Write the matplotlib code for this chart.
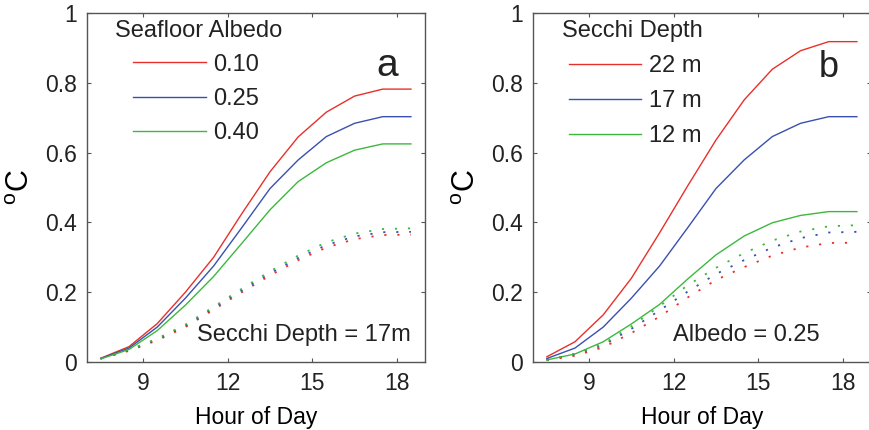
import matplotlib
matplotlib.use("Agg")
import matplotlib.pyplot as plt

plt.rcParams['font.family'] = ['Liberation Sans', 'DejaVu Sans']
plt.rcParams['mathtext.fontset'] = 'custom'
plt.rcParams['mathtext.rm'] = 'Liberation Sans'
plt.rcParams['text.color'] = '#222222'

hours = [7.5, 8.5, 9.5, 10.5, 11.5, 12.5, 13.5, 14.5, 15.5, 16.5, 17.5, 18.5]

# (a) Secchi depth 17 m, three seafloor albedos
albedo_labels = ['0.10', '0.25', '0.40']
a_solid_red = [0.011, 0.044, 0.110, 0.200, 0.300, 0.425, 0.545, 0.645, 0.716, 0.762, 0.782, 0.782]
a_solid_blue = [0.010, 0.040, 0.100, 0.183, 0.275, 0.385, 0.497, 0.579, 0.646, 0.684, 0.703, 0.703]
a_solid_green = [0.009, 0.036, 0.090, 0.163, 0.245, 0.340, 0.436, 0.517, 0.571, 0.607, 0.625, 0.625]
a_dot_red = [0.010, 0.032, 0.062, 0.100, 0.150, 0.200, 0.248, 0.292, 0.328, 0.352, 0.364, 0.365]
a_dot_blue = [0.010, 0.034, 0.065, 0.104, 0.155, 0.205, 0.254, 0.298, 0.335, 0.360, 0.372, 0.373]
a_dot_green = [0.010, 0.035, 0.067, 0.107, 0.158, 0.210, 0.260, 0.305, 0.343, 0.368, 0.381, 0.383]

# (b) albedo 0.25, three Secchi depths
secchi_labels = ['22 m', '17 m', '12 m']
b_solid_red = [0.015, 0.058, 0.135, 0.240, 0.370, 0.505, 0.636, 0.751, 0.839, 0.892, 0.918, 0.918]
b_solid_blue = [0.010, 0.040, 0.100, 0.183, 0.275, 0.385, 0.497, 0.579, 0.646, 0.684, 0.703, 0.703]
b_solid_green = [0.006, 0.023, 0.058, 0.109, 0.165, 0.238, 0.307, 0.361, 0.399, 0.420, 0.431, 0.431]
b_dot_red = [0.005, 0.018, 0.042, 0.083, 0.130, 0.185, 0.235, 0.272, 0.305, 0.328, 0.341, 0.342]
b_dot_blue = [0.007, 0.022, 0.048, 0.095, 0.148, 0.202, 0.252, 0.292, 0.328, 0.355, 0.371, 0.373]
b_dot_green = [0.005, 0.024, 0.052, 0.102, 0.160, 0.220, 0.270, 0.312, 0.348, 0.374, 0.389, 0.392]

x_ticks = [9, 12, 15, 18]
y_ticks = [0, 0.2, 0.4, 0.6, 0.8, 1]
y_tick_labels = ['0', '0.2', '0.4', '0.6', '0.8', '1']

colors = ['#e8302a', '#3a50b0', '#3db83d']
dot_style = (0, (1.2, 6))
frame_color = '#555555'

fig = plt.figure(figsize=(8.69, 4.30), dpi=100)
ax_a = fig.add_axes([0.0998, 0.1581, 0.3893, 0.8116])
ax_b = fig.add_axes([0.6130, 0.1581, 0.3893, 0.8116])


def style_axes(ax):
    ax.set_xlim(7, 19)
    ax.set_ylim(0, 1)
    ax.set_xticks(x_ticks)
    ax.set_xticklabels([str(t) for t in x_ticks])
    ax.set_yticks(y_ticks)
    ax.set_yticklabels(y_tick_labels)
    ax.tick_params(direction='in', top=True, right=True, length=3, width=0.8,
                   color=frame_color, labelsize=16.5, labelcolor='#222222', pad=7)
    for sp in ax.spines.values():
        sp.set_color(frame_color)
        sp.set_linewidth(1.0)
    ax.set_xlabel('Hour of Day', fontsize=16.5)
    ax.xaxis.set_label_coords(0.5, -0.125)
    ax.set_ylabel(r'$^{\mathrm{o}}$C', fontsize=22)
    ax.yaxis.set_label_coords(-0.15, 0.5)


panels = [
    (ax_a, [a_solid_red, a_solid_blue, a_solid_green], [a_dot_red, a_dot_blue, a_dot_green],
     albedo_labels, 'Seafloor Albedo', 'a', 'Secchi Depth = 17m'),
    (ax_b, [b_solid_red, b_solid_blue, b_solid_green], [b_dot_red, b_dot_blue, b_dot_green],
     secchi_labels, 'Secchi Depth', 'b', 'Albedo = 0.25'),
]

for ax, solids, dots, labels, title, letter, note in panels:
    style_axes(ax)
    handles = []
    for vals, c, lab in zip(solids, colors, labels):
        h, = ax.plot(hours, vals, color=c, lw=1.0, label=lab)
        handles.append(h)
    for vals, c in zip(dots, colors):
        ax.plot(hours, vals, color=c, lw=1.3, linestyle=dot_style)

    if letter == 'a':
        ax.text(0.0837, 0.948, title, transform=ax.transAxes, fontsize=17, va='center', ha='left')
        ax.legend(handles=handles, loc='upper left', bbox_to_anchor=(0.1377, 0.884),
                  frameon=False, fontsize=17, handlelength=3.07, handletextpad=0.32,
                  labelspacing=0.52, borderpad=0, borderaxespad=0)
        ax.text(0.887, 0.848, letter, transform=ax.transAxes, fontsize=28, ha='center', va='center')
        ax.text(0.327, 0.077, note, transform=ax.transAxes, fontsize=17, ha='left', va='center')
    else:
        ax.text(0.0857, 0.948, title, transform=ax.transAxes, fontsize=17, va='center', ha='left')
        ax.legend(handles=handles, loc='upper left', bbox_to_anchor=(0.1073, 0.879),
                  frameon=False, fontsize=17, handlelength=3.07, handletextpad=0.32,
                  labelspacing=0.55, borderpad=0, borderaxespad=0)
        ax.text(0.874, 0.845, letter, transform=ax.transAxes, fontsize=26, ha='center', va='center')
        ax.text(0.4156, 0.077, note, transform=ax.transAxes, fontsize=17, ha='left', va='center')

fig.savefig('out.png', dpi=100)
